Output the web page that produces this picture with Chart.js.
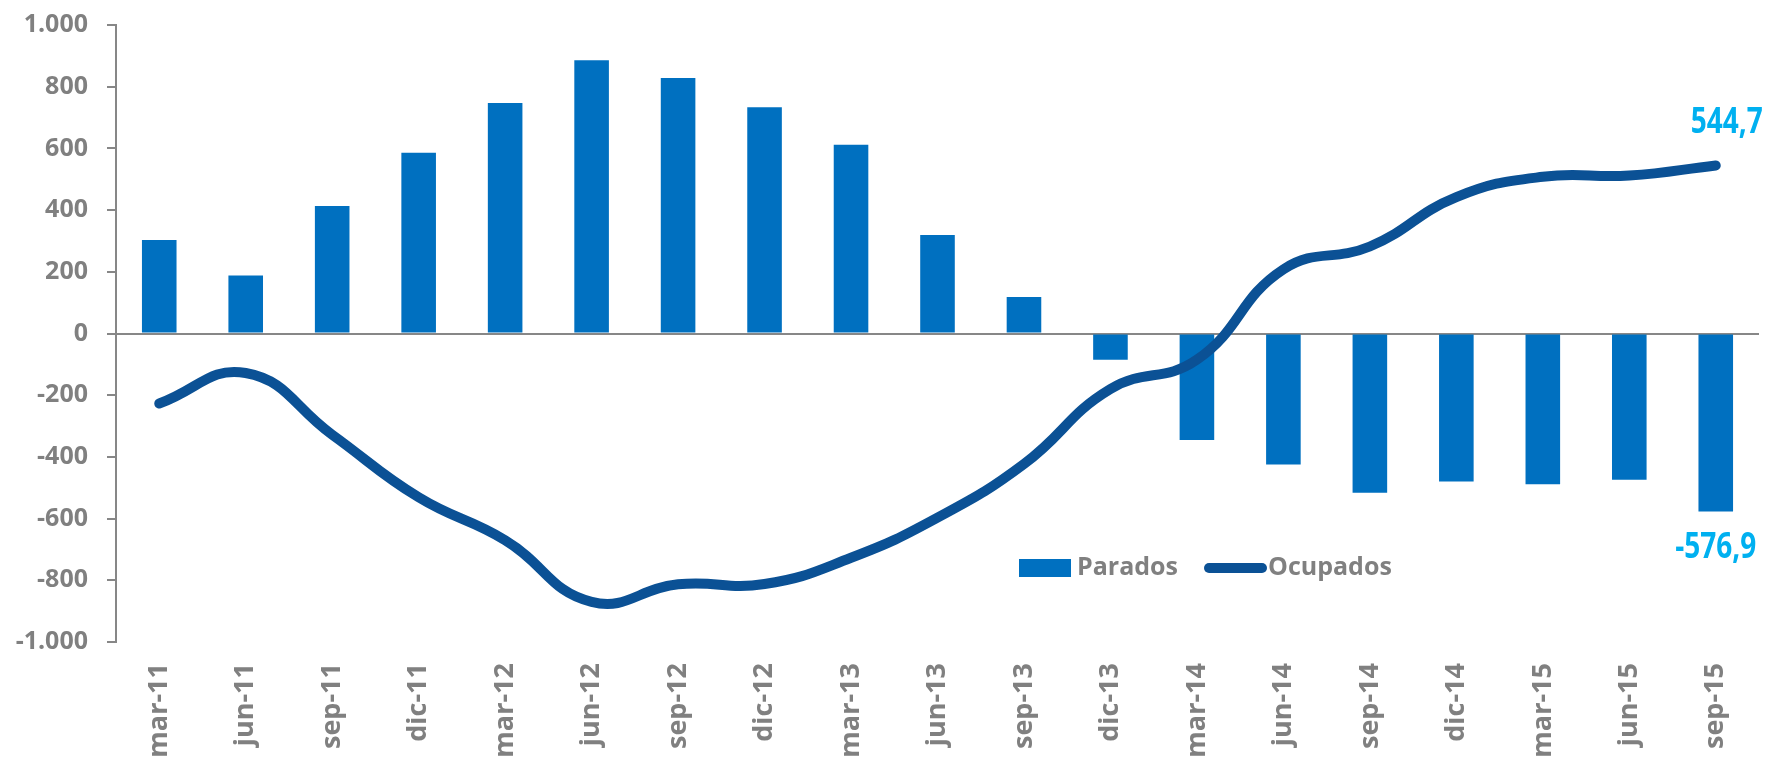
<!DOCTYPE html>
<html>
<head>
<meta charset="utf-8">
<script src="https://cdn.jsdelivr.net/npm/chart.js@4/dist/chart.umd.min.js"></script>
<style>
  html, body { margin: 0; padding: 0; background: #fff; overflow: hidden; }
  #wrap { width: 1772px; height: 757px; }
</style>
</head>
<body>
<div id="wrap"><canvas id="empleoChart" width="1772" height="757"></canvas></div>
<script>
const periodos = ["mar-11", "jun-11", "sep-11", "dic-11", "mar-12", "jun-12", "sep-12", "dic-12",
  "mar-13", "jun-13", "sep-13", "dic-13", "mar-14", "jun-14", "sep-14", "dic-14",
  "mar-15", "jun-15", "sep-15"];
const parados = [303, 188, 413, 586, 747, 886, 828, 733, 612, 319, 118, -85, -345, -425, -516, -480, -489, -474, -576.9];
const ocupados = [-227, -128, -328, -531, -670, -870, -813, -812, -727, -597, -423, -180, -85, 208, 282, 442, 508, 512, 544.7];

const GRIS = "#808080";
const AZUL_BARRA = "#0070C0";
const AZUL_LINEA = "#0B5195";
const AZUL_ETIQUETA = "#00B0F0";

function miles(v) {
  const s = String(Math.abs(v)).replace(/\B(?=(\d{3})+(?!\d))/g, ".");
  return v < 0 ? "-" + s : s;
}
function decimal(v) {
  return v.toFixed(1).replace(".", ",");
}

// texto estrecho (tipo Calibri) para las etiquetas de dato
function textoEstrecho(c, txt, x, y) {
  c.save();
  c.translate(x, y);
  c.scale(0.8, 1);
  c.fillText(txt, 0, 0);
  c.restore();
}

// etiquetas del ultimo dato y leyenda dentro del grafico
const extras = {
  id: "extras",
  afterDatasetsDraw(chart) {
    const c = chart.ctx;
    c.save();
    c.font = "bold 35px 'Open Sans', sans-serif";
    c.fillStyle = AZUL_ETIQUETA;
    c.textAlign = "center";
    c.textBaseline = "middle";
    const last = periodos.length - 1;
    const pt = chart.getDatasetMeta(1).data[last];
    textoEstrecho(c, decimal(ocupados[last]), pt.x + 11, pt.y - 42);
    const bar = chart.getDatasetMeta(0).data[last];
    textoEstrecho(c, decimal(parados[last]), bar.x, bar.y + 37);

    // leyenda
    const ds = chart.data.datasets;
    c.font = "bold 25px 'Open Sans', sans-serif";
    c.textAlign = "left";
    c.fillStyle = ds[0].backgroundColor;
    c.fillRect(1019, 559, 52, 18);
    c.fillStyle = GRIS;
    c.fillText(ds[0].label, 1077, 568);
    c.strokeStyle = ds[1].borderColor;
    c.lineWidth = 10;
    c.lineCap = "round";
    c.beginPath();
    c.moveTo(1209, 568);
    c.lineTo(1262, 568);
    c.stroke();
    c.fillStyle = GRIS;
    c.fillText(ds[1].label, 1268, 568);
    c.restore();
  }
};

const ctx = document.getElementById("empleoChart").getContext("2d");

const empleoChart = new Chart(ctx, {
  data: {
    labels: periodos,
    datasets: [
      {
        type: "bar",
        label: "Parados",
        data: parados,
        backgroundColor: AZUL_BARRA,
        barPercentage: 0.4,
        categoryPercentage: 1,
        order: 1,
      },
      {
        type: "line",
        label: "Ocupados",
        data: ocupados,
        borderColor: AZUL_LINEA,
        backgroundColor: AZUL_LINEA,
        borderWidth: 10,
        borderCapStyle: "round",
        borderJoinStyle: "round",
        tension: 0.45,
        pointRadius: 0,
        fill: false,
        order: 0,
      },
    ],
  },
  plugins: [extras],
  options: {
    responsive: false,
    animation: false,
    layout: { padding: { top: 25, right: 13, left: 0, bottom: 0 } },
    plugins: {
      legend: { display: false },
      tooltip: { enabled: false },
    },
    scales: {
      x: {
        offset: true,
        grid: { display: false, drawTicks: false },
        border: { display: false },
        ticks: {
          autoSkip: false,
          minRotation: 90,
          maxRotation: 90,
          padding: 21,
          color: GRIS,
          font: { family: "'Open Sans', sans-serif", size: 27, weight: "bold" },
        },
        afterFit(scale) { scale.height = 115; },
      },
      y: {
        min: -1000,
        max: 1000,
        ticks: {
          stepSize: 200,
          padding: 19,
          color: GRIS,
          font: { family: "'Open Sans', sans-serif", size: 25, weight: "bold" },
          callback: (v) => miles(v),
        },
        grid: {
          color: (c) => (c.tick && c.tick.value === 0 ? "#878787" : "transparent"),
          lineWidth: 2,
          tickColor: "#878787",
          tickLength: 9,
        },
        border: { display: true, color: "#878787", width: 2 },
        afterFit(scale) {
          scale.width = 116;
          scale.paddingTop = 10;
          scale.paddingBottom = 10;
        },
      },
    },
  },
});
</script>
</body>
</html>
